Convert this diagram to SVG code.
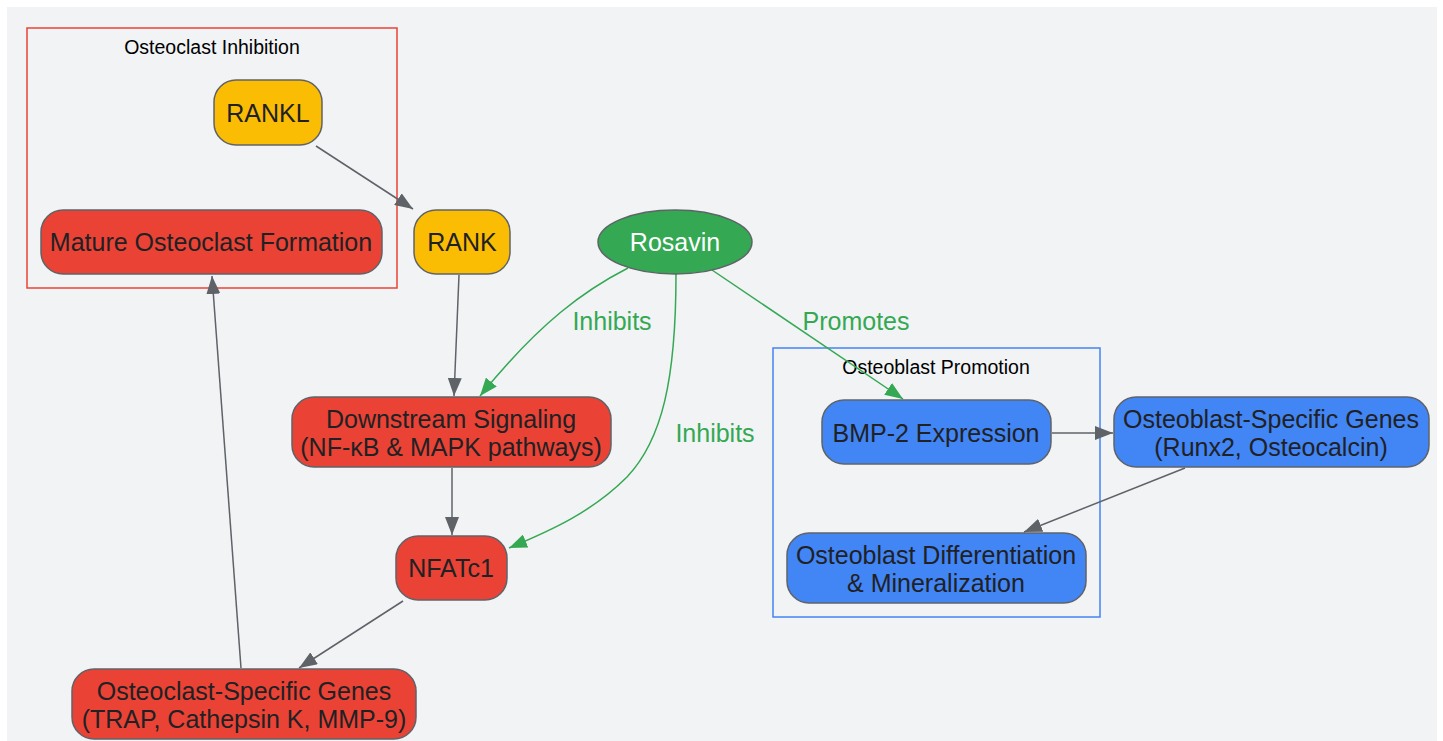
<svg xmlns="http://www.w3.org/2000/svg" width="1443" height="741" viewBox="0 0 1443 741">
<style>
.bg{fill:#f1f3f5}
.node{stroke:#5f6368;stroke-width:1.5}
.red{fill:#ea4335}.yel{fill:#fbbc04}.grn{fill:#34a853}.blu{fill:#4285f4}
.t{font-family:"Liberation Sans",Arial,sans-serif;font-size:25px;fill:#202124;text-anchor:middle}
.tw{fill:#ffffff}
.cl{font-family:"Liberation Sans",Arial,sans-serif;font-size:19.5px;fill:#000;text-anchor:middle}
.e{fill:none;stroke:#5f6368;stroke-width:1.5}
.eg{fill:none;stroke:#34a853;stroke-width:1.5}
.lbl{font-family:"Liberation Sans",Arial,sans-serif;font-size:25px;fill:#34a853;text-anchor:middle}
</style>
<defs>
<marker id="ag" viewBox="0 0 18 14" refX="18" refY="7" markerWidth="18" markerHeight="14" markerUnits="userSpaceOnUse" orient="auto"><path d="M0,0 L18,7 L0,14 z" fill="#5f6368"/></marker>
<marker id="agr" viewBox="0 0 18 14" refX="18" refY="7" markerWidth="18" markerHeight="14" markerUnits="userSpaceOnUse" orient="auto"><path d="M0,0 L18,7 L0,14 z" fill="#34a853"/></marker>
</defs>
<rect x="0" y="0" width="1443" height="741" fill="#ffffff"/>
<rect class="bg" x="7" y="7" width="1430" height="734"/>

<g id="cluster-osteoclast">
<rect x="27" y="28" width="370" height="260" fill="none" stroke="#ea4335" stroke-width="1.5"/>
<text class="cl" x="212" y="54">Osteoclast Inhibition</text>
</g>
<g id="cluster-osteoblast">
<rect x="773" y="348" width="327" height="269" fill="none" stroke="#4285f4" stroke-width="1.5"/>
<text class="cl" x="936" y="374">Osteoblast Promotion</text>
</g>

<g id="connectors">
<path class="e" d="M316,146 L413,209" marker-end="url(#ag)"/>
<path class="e" d="M459,275 L454,396" marker-end="url(#ag)"/>
<path class="e" d="M452,468 L452,535" marker-end="url(#ag)"/>
<path class="e" d="M403,601 L299,668" marker-end="url(#ag)"/>
<path class="e" d="M241,668 L212,276" marker-end="url(#ag)"/>
<path class="e" d="M1052,433 L1113,433" marker-end="url(#ag)"/>
<path class="e" d="M1185,468 L1024,532" marker-end="url(#ag)"/>
<path class="eg" d="M628,268 C585,290 540,322 480,396" marker-end="url(#agr)"/>
<path class="eg" d="M676,274 C676,380 662,440 627,477 C592,512 552,530 509,548" marker-end="url(#agr)"/>
<path class="eg" d="M712,270 L903,399" marker-end="url(#agr)"/>
<text class="lbl" x="612" y="330">Inhibits</text>
<text class="lbl" x="715" y="442">Inhibits</text>
<text class="lbl" x="856" y="330">Promotes</text>
</g>

<g id="rankl"><rect class="node yel" x="214" y="80" width="108" height="65" rx="22"/><text class="t" x="268" y="122">RANKL</text></g>
<g id="rank"><rect class="node yel" x="414" y="210" width="96" height="64" rx="22"/><text class="t" x="462" y="251">RANK</text></g>
<g id="mature"><rect class="node red" x="41" y="210" width="341" height="64" rx="22"/><text class="t" x="211" y="251">Mature Osteoclast Formation</text></g>
<g id="rosavin"><ellipse class="node grn" cx="675" cy="242" rx="77" ry="32"/><text class="t tw" x="675" y="251">Rosavin</text></g>
<g id="downstream"><rect class="node red" x="292" y="397" width="319" height="70" rx="22"/><text class="t" x="451" y="428">Downstream Signaling</text><text class="t" x="451" y="456">(NF-κB &amp; MAPK pathways)</text></g>
<g id="nfatc1"><rect class="node red" x="396" y="536" width="111" height="64" rx="22"/><text class="t" x="451" y="577">NFATc1</text></g>
<g id="oc-genes"><rect class="node red" x="72" y="669" width="344" height="70" rx="22"/><text class="t" x="244" y="700">Osteoclast-Specific Genes</text><text class="t" x="244" y="728">(TRAP, Cathepsin K, MMP-9)</text></g>
<g id="bmp2"><rect class="node blu" x="822" y="400" width="229" height="64" rx="22"/><text class="t" x="936" y="442">BMP-2 Expression</text></g>
<g id="ob-genes"><rect class="node blu" x="1114" y="397" width="315" height="70" rx="22"/><text class="t" x="1271" y="428">Osteoblast-Specific Genes</text><text class="t" x="1271" y="456">(Runx2, Osteocalcin)</text></g>
<g id="ob-diff"><rect class="node blu" x="787" y="533" width="299" height="70" rx="22"/><text class="t" x="936" y="564">Osteoblast Differentiation</text><text class="t" x="936" y="592">&amp; Mineralization</text></g>
</svg>
